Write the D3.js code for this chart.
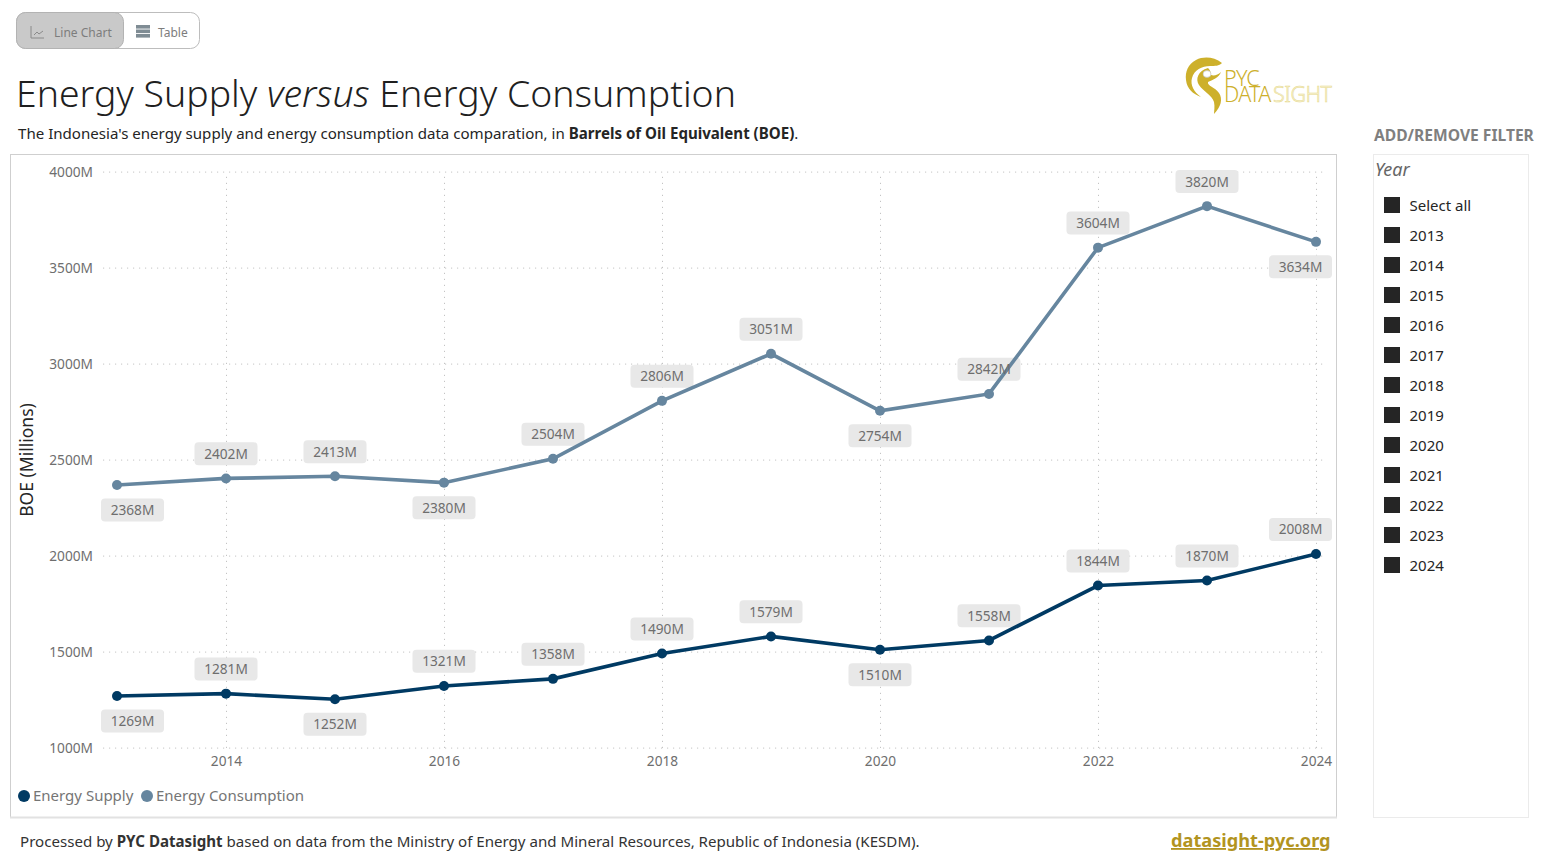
<!DOCTYPE html>
<html>
<head>
<meta charset="utf-8">
<script src="https://cdn.jsdelivr.net/npm/d3@7/dist/d3.min.js"></script>
<style>
html,body{margin:0;padding:0;background:#fff;overflow:hidden}
svg{display:block;font-family:"Noto Sans","Open Sans",sans-serif}
.x-axis .domain,.y-axis .domain{display:none}
.grid line{stroke:#c4c4c4;stroke-width:1;stroke-dasharray:1.2 4.8}
.axis-label{fill:#6e6e6e;font-size:13.7px;font-family:"Noto Sans","Open Sans",sans-serif}
</style>
</head>
<body>
<svg id="chart" width="1544" height="864"></svg>
<script>
// Annual Indonesian energy balance, millions of barrels of oil equivalent
const years = [2013,2014,2015,2016,2017,2018,2019,2020,2021,2022,2023,2024];
const energySupply = [1269,1281,1252,1321,1358,1490,1579,1510,1558,1844,1870,2008];
const energyConsumption = [2368,2402,2413,2380,2504,2806,3051,2754,2842,3604,3820,3634];
// +1 puts a value label above its point, -1 below
const supplySides = [-1,1,-1,1,1,1,1,-1,1,1,1,1];
const consumptionSides = [-1,1,1,-1,1,1,1,-1,1,1,1,-1];
const yTicks = [1000,1500,2000,2500,3000,3500,4000];
const xTicks = [2014,2016,2018,2020,2022,2024];
const filterItems = ["Select all",...years.map(String)];
const seriesNames = ["Energy Supply","Energy Consumption"];
const supplyColor = "#003a63";
const consumptionColor = "#66869f";

const svg = d3.select("#chart");
const x = d3.scaleLinear().domain([2013,2024]).range([117,1316]);
const y = d3.scaleLinear().domain([1000,4000]).range([747.6,171.6]);

/* ---------- slicer toggle ---------- */
const toggle = svg.append("g");
toggle.append("rect").attr("x",16.5).attr("y",12.5).attr("width",183).attr("height",36).attr("rx",9)
  .attr("fill","#fff").attr("stroke","#bdbdbd");
toggle.append("rect").attr("x",16.5).attr("y",12.5).attr("width",107).attr("height",36).attr("rx",9)
  .attr("fill","#c9c9c9").attr("stroke","#b3b3b3");
toggle.append("path").attr("d","M31 26V38H44M34 35L37 32L39 34L43 31").attr("fill","none").attr("stroke","#8a8a8a");
toggle.append("text").attr("x",54).attr("y",37).attr("font-size",12).attr("fill","#7d7d7d").text("Line Chart");
[25,29.5,34].forEach(t=>toggle.append("rect").attr("x",136).attr("y",t).attr("width",14).attr("height",3.6).attr("fill","#7f8c94"));
toggle.append("text").attr("x",158).attr("y",37).attr("font-size",12).attr("fill","#7d7d7d").text("Table");

/* ---------- headings ---------- */
const title = svg.append("text").attr("x",16).attr("y",107).attr("font-size",37.4).attr("font-weight",300).attr("fill","#1f1f1f");
title.append("tspan").text("Energy Supply ");
title.append("tspan").attr("font-style","italic").text("versus");
title.append("tspan").text(" Energy Consumption");

const sub = svg.append("text").attr("x",18).attr("y",139).attr("font-size",15.08).attr("fill","#252525");
sub.append("tspan").text("The Indonesia's energy supply and energy consumption data comparation, in ");
sub.append("tspan").attr("font-weight",700).text("Barrels of Oil Equivalent (BOE)");
sub.append("tspan").text(".");

/* ---------- brand mark ---------- */
const logo = svg.append("g");
logo.append("path").attr("fill","#cdb02b")
  .attr("d","M1222 63C1214 57 1204 56 1196 60C1188 64 1185 72 1186 80C1187 89 1193 94 1201 97C1194 92 1190 85 1192 78C1194 70 1202 66 1210 66C1215 66 1219 66 1222 63Z");
logo.append("path").attr("fill","#cdb02b")
  .attr("d","M1208 68C1198 71 1195 79 1199 85C1203 91 1212 95 1214 102C1215 107 1214 111 1214 114C1221 107 1223 99 1219 93C1215 87 1207 86 1208 82C1212 80 1219 78 1221 72C1218 75 1214 76 1211 75C1211 72 1210 70 1208 68Z");
logo.append("ellipse").attr("cx",1207).attr("cy",74).attr("rx",4).attr("ry",3.4).attr("fill","#fff").attr("stroke","#b9b9b9").attr("stroke-width",.6);
const brand = logo.append("text").attr("font-size",21.5).attr("font-weight",300).attr("letter-spacing",-.7);
brand.append("tspan").attr("x",1224).attr("y",86).attr("fill","#cdb02b").text("PYC");
brand.append("tspan").attr("x",1224).attr("y",102).attr("fill","#cdb02b").text("DATA");
brand.append("tspan").attr("x",1273).attr("y",102).attr("fill","#f8f2d2").attr("stroke","#e6d98c").attr("stroke-width",.5).attr("letter-spacing",-.5).text("SIGHT");

/* ---------- chart panel ---------- */
svg.append("rect").attr("x",10.5).attr("y",154.5).attr("width",1326).attr("height",663)
  .attr("fill","#fff").attr("stroke","#cfcfcf");
svg.append("line").attr("x1",10).attr("x2",1337).attr("y1",817.5).attr("y2",817.5).attr("stroke","#e2e2e2").attr("stroke-width",2);

const yAxis = svg.append("g").attr("class","y-axis grid").attr("transform","translate(103,0)")
  .call(d3.axisLeft(y).tickValues(yTicks).tickFormat(d=>d+"M").tickSize(-1224).tickPadding(10));
yAxis.selectAll("text").attr("class","axis-label").attr("fill",null).attr("dy","0.38em");

const xAxis = svg.append("g").attr("class","x-axis grid").attr("transform","translate(0,748)")
  .call(d3.axisBottom(x).tickValues(xTicks).tickFormat(d3.format("d")).tickSize(-576).tickPadding(8));
xAxis.selectAll("text").attr("class","axis-label").attr("fill",null);

svg.append("text").attr("transform","translate(33,460) rotate(-90)").attr("text-anchor","middle")
  .attr("font-size",17.5).attr("fill","#252525").text("BOE (Millions)");

/* ---------- series ---------- */
const line = d3.line().x((d,i)=>x(years[i])).y(d=>y(d));
const series = [
  {values:energySupply, sides:supplySides, color:supplyColor},
  {values:energyConsumption, sides:consumptionSides, color:consumptionColor}
];
const chipX = i => Math.max(132.5,Math.min(1300.5,x(years[i])));
const chipY = (d,side) => y(d) + (side > 0 ? -24.6 : 25);

// Chip backgrounds sit under the lines, their numbers on top
series.forEach(s=>{
  svg.append("g").selectAll("rect").data(s.values).join("rect")
    .attr("x",(d,i)=>chipX(i)-31.5).attr("y",(d,i)=>chipY(d,s.sides[i])-11.5)
    .attr("width",63).attr("height",23).attr("rx",4).attr("fill","#e8e8e8");
});
series.forEach(s=>{
  svg.append("path").attr("d",line(s.values)).attr("fill","none").attr("stroke",s.color).attr("stroke-width",3.6);
  svg.append("g").selectAll("circle").data(s.values).join("circle")
    .attr("cx",(d,i)=>x(years[i])).attr("cy",d=>y(d)).attr("r",5).attr("fill",s.color);
});
series.forEach(s=>{
  svg.append("g").selectAll("text").data(s.values).join("text")
    .attr("x",(d,i)=>chipX(i)).attr("y",(d,i)=>chipY(d,s.sides[i])+5)
    .attr("text-anchor","middle").attr("font-size",13.7).attr("fill","#6e6e6e").text(d=>d+"M");
});

/* ---------- legend ---------- */
const legendX = [24,147];
seriesNames.forEach((n,i)=>{
  svg.append("circle").attr("cx",legendX[i]).attr("cy",796).attr("r",6).attr("fill",series[i].color);
  svg.append("text").attr("x",legendX[i]+9).attr("y",801).attr("font-size",15).attr("fill","#757575").text(n);
});

/* ---------- source line ---------- */
const src = svg.append("text").attr("x",20).attr("y",847).attr("font-size",15.1).attr("fill","#333");
src.append("tspan").text("Processed by ");
src.append("tspan").attr("font-weight",700).text("PYC Datasight");
src.append("tspan").text(" based on data from the Ministry of Energy and Mineral Resources, Republic of Indonesia (KESDM).");
svg.append("text").attr("x",1171).attr("y",847).attr("font-size",18.2).attr("font-weight",700)
  .attr("fill","#b2941f").attr("text-decoration","underline").text("datasight-pyc.org");

/* ---------- year filter ---------- */
svg.append("text").attr("x",1374).attr("y",141).attr("font-size",15.6).attr("font-weight",700).attr("fill","#7f7f7f").text("ADD/REMOVE FILTER");
svg.append("rect").attr("x",1373.5).attr("y",154.5).attr("width",155).attr("height",663).attr("fill","#fff").attr("stroke","#ebebeb");
svg.append("text").attr("x",1375).attr("y",176).attr("font-size",18).attr("font-style","italic").attr("fill","#666").text("Year");
const rows = svg.append("g").selectAll("g").data(filterItems).join("g")
  .attr("transform",(d,i)=>`translate(1384,${205+i*30})`);
rows.append("rect").attr("y",-8).attr("width",16).attr("height",16).attr("fill","#252525");
rows.append("text").attr("x",25.5).attr("y",6).attr("font-size",15).attr("fill","#252525").text(d=>d);
</script>
</body>
</html>
